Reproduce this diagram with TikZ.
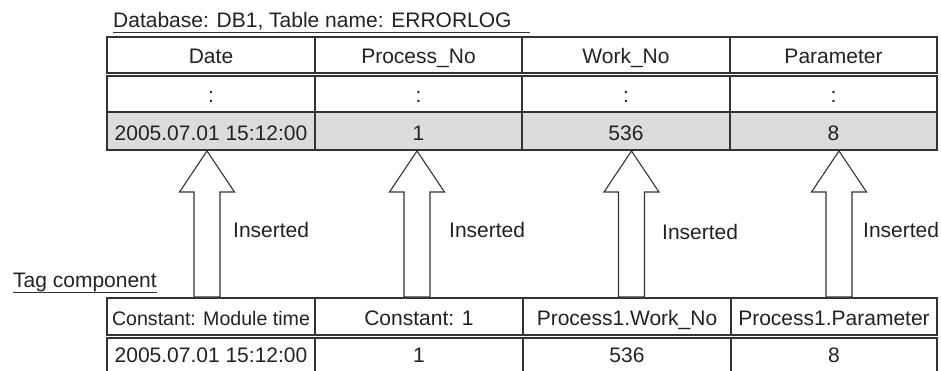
\documentclass[tikz,border=0pt]{standalone}
\usepackage{fontspec}
\setmainfont{Liberation Sans}
\definecolor{ln}{HTML}{333333}
\definecolor{tx}{HTML}{222222}
\definecolor{cellgray}{HTML}{DCDCDC}
\begin{document}
\begin{tikzpicture}[x=1pt,y=-1pt,
  font=\fontsize{21}{24}\selectfont, text=tx,
  cell/.style={draw=ln, line width=1.1pt, inner sep=0pt, anchor=north west, outer sep=0pt},
  shade/.style={cell, fill=cellgray},
  ctext/.style={inner sep=0pt, anchor=base},
  blockarrow/.style={draw=ln, line width=1.1pt, fill=white, line join=miter},
  lbl/.style={inner sep=0pt, anchor=base west},
  uline/.style={draw=ln, line width=1pt}]
\useasboundingbox (0,0) rectangle (941,370);
% title
\node[lbl] (title) at (113,27) {Database: DB1, Table name: ERRORLOG};
\draw[uline] (113,32) -- (530,32);
% top table
\foreach \n/\x/\w/\h/\a/\b in {1/107/208/Date/:/2005.07.01 15:12:00, 2/315/207/Process\_No/:/1, 3/522/208/Work\_No/:/536, 4/730/207/Parameter/:/8}{
  \node[cell, minimum width=\w pt, minimum height=36pt] (h\n) at (\x,37) {};
  \node[ctext] (ht\n) at (h\n.center |- 0,63) {\h};
  \node[cell, minimum width=\w pt, minimum height=36pt] (r\n) at (\x,76) {};
  \node[ctext] (rt\n) at (r\n.center |- 0,102) {\a};
  \node[shade, minimum width=\w pt, minimum height=38pt] (s\n) at (\x,112) {};
  \node[ctext] (st\n) at (s\n.center |- 0,140) {\b};
}
% tag component
\node[lbl] (tag) at (13,287) {Tag component};
\draw[uline] (13,292) -- (157,292);
% bottom table
\foreach \n/\x/\w/\h/\b in {2/315/208/Constant: 1/1, 3/523/208/Process1.Work\_No/536, 4/731/206/Process1.Parameter/8}{
  \node[cell, minimum width=\w pt, minimum height=37pt] (c\n) at (\x,298) {};
  \node[ctext] (ct\n) at (c\n.center |- 0,325) {\h};
  \node[cell, minimum width=\w pt, minimum height=40pt] (v\n) at (\x,338) {};
  \node[ctext] (vt\n) at (v\n.center |- 0,362) {\b};
}
\node[cell, minimum width=208pt, minimum height=37pt] (c1) at (107,298) {};
\node[ctext, font=\fontsize{19.6}{22}\selectfont] (ct1) at (c1.center |- 0,325) {Constant: Module time};
\node[cell, minimum width=208pt, minimum height=40pt] (v1) at (107,338) {};
\node[ctext] (vt1) at (v1.center |- 0,362) {2005.07.01 15:12:00};
% arrows
\foreach \n/\x in {1/207,2/417,3/631.5,4/839}{
  \coordinate (tip\n) at (\x,151);
  \coordinate (base\n) at (\x,297);
  \draw[blockarrow] (tip\n) -- ++(27.5,41) -- ++(-14.5,0) |- ([xshift=-13pt]base\n) -- ++(0,-105) -- ++(-14.5,0) -- cycle;
}
\node[lbl] (i1) at (233,237) {Inserted};
\node[lbl] (i2) at (449,237) {Inserted};
\node[lbl] (i3) at (662,239) {Inserted};
\node[lbl] (i4) at (863,237) {Inserted};
\end{tikzpicture}
\end{document}
